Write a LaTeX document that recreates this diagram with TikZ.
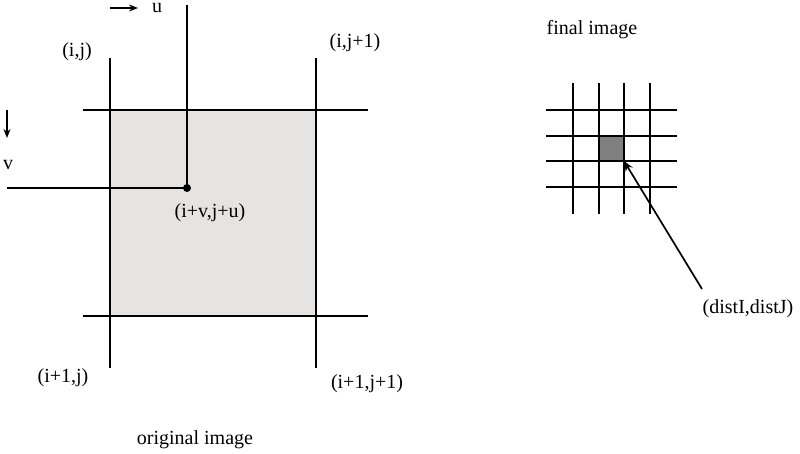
\documentclass[tikz,border=0pt]{standalone}
\usepackage{fontspec}
\setmainfont{Liberation Serif}
\usetikzlibrary{arrows.meta}
\begin{document}
\begin{tikzpicture}[x=1pt,y=-1pt,
  ln/.style={line width=1.7pt,black},
  gl/.style={line width=1.6pt,black},
  lbl/.style={font=\fontsize{20}{24}\selectfont,inner sep=0pt},
  arr/.style={line width=1.7pt,-{Stealth[length=9pt,width=7pt]}}]
\useasboundingbox (0,0) rectangle (800,453);
% original image cell
\fill[fill={rgb,255:red,230;green,227;blue,227}] (110,110) rectangle (316,316);
\draw[ln] (110,58) -- (110,368);
\draw[ln] (316,58) -- (316,368);
\draw[ln] (83,110) -- (368,110);
\draw[ln] (83,316) -- (368,316);
% u and v lines
\coordinate (utop) at (187,5);
\coordinate (vleft) at (7,188);
\node[circle,fill=black,inner sep=0pt,minimum size=8pt] (pt) at (187,188) {};
\draw[ln] (utop) -- (pt.center) -- (vleft);
% direction arrows
\coordinate (ua) at (110,8);
\coordinate (ub) at (138,8);
\draw[arr] (ua) -- (ub);
\node[lbl] (u) at (157,8.5) {u};
\coordinate (va) at (7,110);
\coordinate (vb) at (7,138);
\draw[arr] (va) -- (vb);
\node[lbl] (v) at (8,165) {v};
% labels
\node[lbl] (ij) at (77,52) {(i,j)};
\node[lbl] (ij1) at (355,43) {(i,j+1)};
\node[lbl] (ivju) at (210,213) {(i+v,j+u)};
\node[lbl] (i1j) at (63,378) {(i+1,j)};
\node[lbl] (i1j1) at (367,384) {(i+1,j+1)};
\node[lbl] (orig) at (195,440) {original image};
% final image grid
\node[lbl] (final) at (592,30) {final image};
\fill[fill={rgb,255:red,128;green,128;blue,128}] (599,136) rectangle (624,161);
\foreach \x in {573,599,624,650} \draw[gl] (\x,83) -- (\x,214);
\foreach \y in {110,136,161,187} \draw[gl] (546,\y) -- (677,\y);
\coordinate (corner) at (624,161);
\node[lbl] (dist) at (748,309) {(distI,distJ)};
\coordinate (tail) at (702,289);
\draw[line width=1.7pt,-{Stealth[length=10pt,width=8pt]}] (tail) -- (corner);
\end{tikzpicture}
\end{document}
